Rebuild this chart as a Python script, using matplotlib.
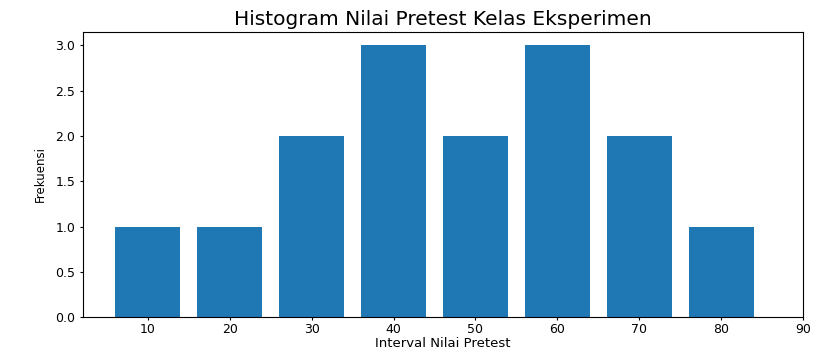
import matplotlib
matplotlib.use("Agg")
import matplotlib.pyplot as plt

# class midpoints and frequencies of pretest scores
interval = [10, 20, 30, 40, 50, 60, 70, 80]
frekuensi = [1, 1, 2, 3, 2, 3, 2, 1]
xtick_vals = [10, 20, 30, 40, 50, 60, 70, 80, 90]
ytick_vals = [0.0, 0.5, 1.0, 1.5, 2.0, 2.5, 3.0]

fig = plt.figure(figsize=(8.13, 3.5), dpi=100)
ax = fig.add_axes([0.102, 0.094, 0.886, 0.815])

ax.bar(interval, frekuensi, width=8, color='#1f77b4')
ax.set_xticks(xtick_vals)
ax.set_yticks(ytick_vals)
ax.tick_params(labelsize=9, length=2.5, pad=1.5)
ax.tick_params(axis='y', pad=3)

ax.set_title('Histogram Nilai Pretest Kelas Eksperimen', fontsize=14.5, pad=5)
ax.set_xlabel('Interval Nilai Pretest', fontsize=9.5)
ax.xaxis.label.set_va('center')
ax.xaxis.set_label_coords(0.5, -0.092)
ax.set_ylabel('Frekuensi', fontsize=8.5, labelpad=6)

fig.savefig('out.png', dpi=100)
